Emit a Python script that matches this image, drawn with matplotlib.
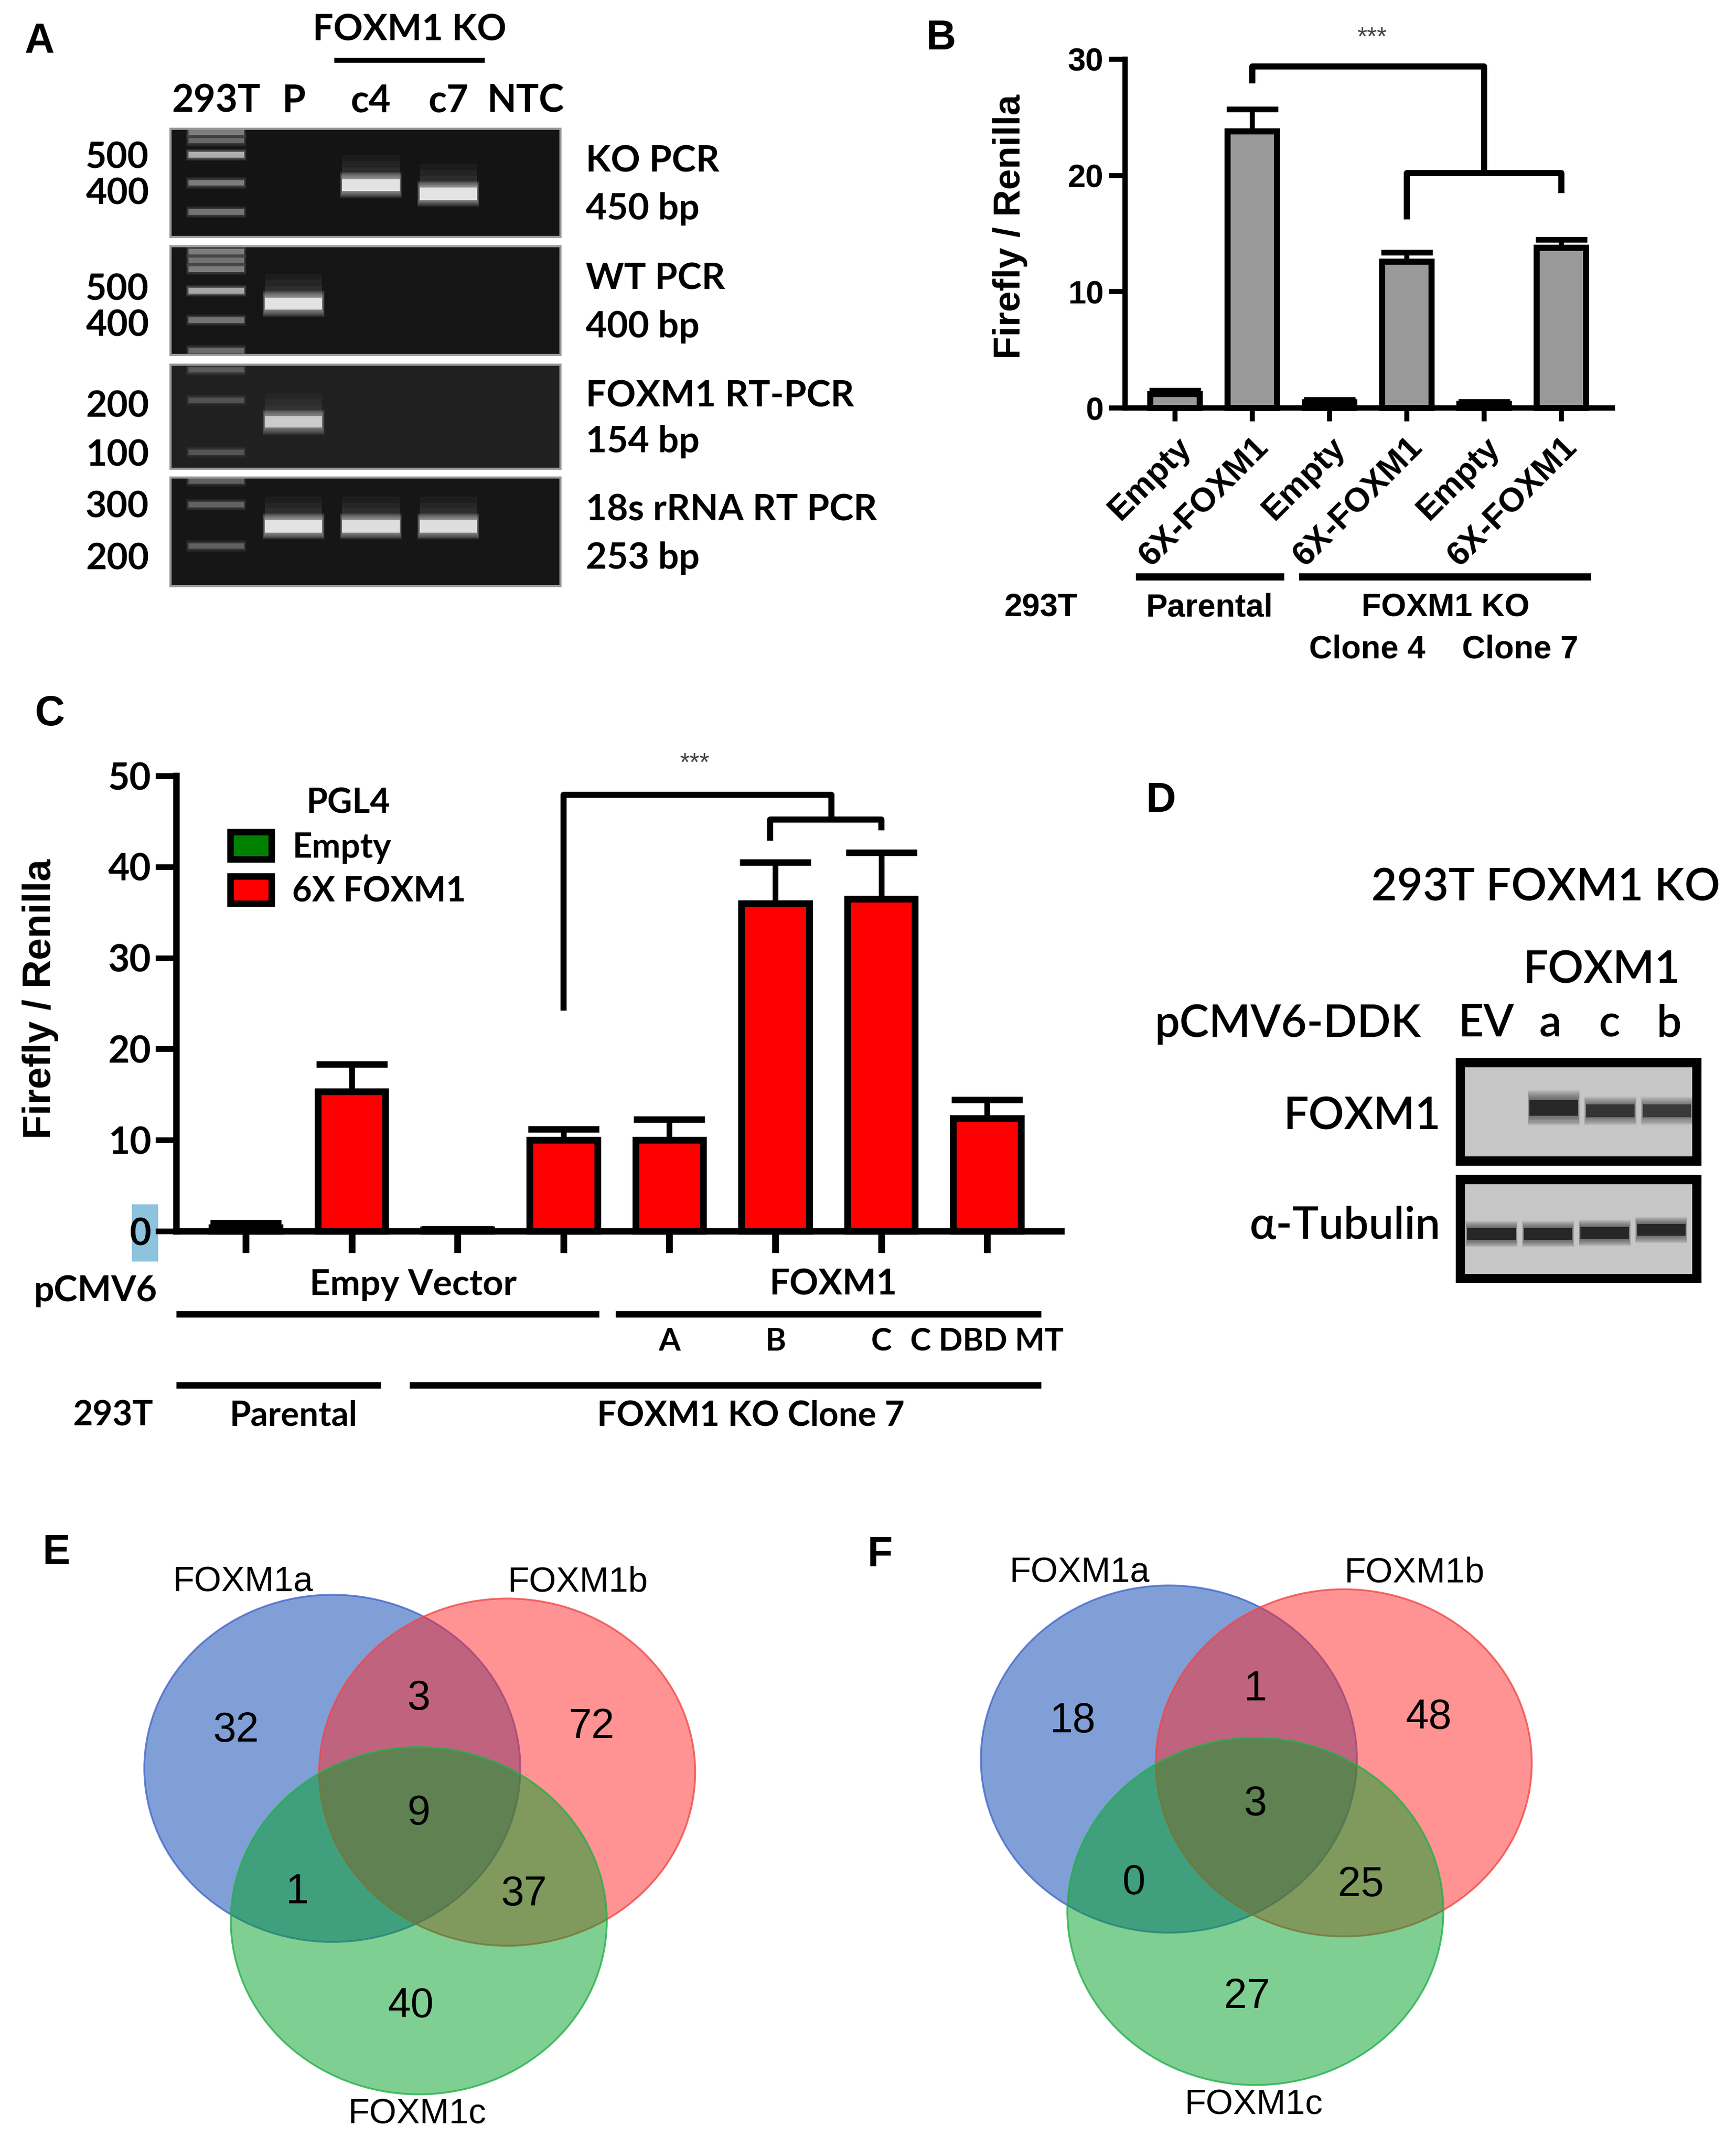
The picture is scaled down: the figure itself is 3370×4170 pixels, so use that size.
import numpy as np
import matplotlib
matplotlib.use("Agg")
import matplotlib.pyplot as plt
from matplotlib.patches import Rectangle, Ellipse, Patch
from matplotlib.lines import Line2D

W, H = 3370, 4170
CAL = ["Lato", "DejaVu Sans"]
ARI = ["Liberation Sans", "DejaVu Sans"]

# ---- panel A: gels ----
gel_lanes = ["293T", "P", "c4", "c7", "NTC"]
gel_size_ticks = [[(0.24, "500"), (0.57, "400")],
                  [(0.37, "500"), (0.70, "400")],
                  [(0.37, "200"), (0.84, "100")],
                  [(0.24, "300"), (0.72, "200")]]
gel_names = [("KO PCR", "450 bp"), ("WT PCR", "400 bp"),
             ("FOXM1 RT-PCR", "154 bp"), ("18s rRNA RT PCR", "253 bp")]
ladder_y = [[0.03, 0.11, 0.24, 0.50, 0.77],
            [0.05, 0.13, 0.21, 0.41, 0.68, 0.96],
            [0.05, 0.34, 0.84],
            [0.03, 0.25, 0.63]]
ladder_int = [[0.45, 0.35, 0.75, 0.45, 0.4],
              [0.45, 0.4, 0.45, 0.7, 0.4, 0.35],
              [0.25, 0.2, 0.22],
              [0.3, 0.32, 0.3]]
# (lane, position, intensity)
sample_bands = [[(2, 0.52, 1.0), (3, 0.60, 1.0)],
                [(1, 0.53, 1.0)],
                [(1, 0.55, 0.8)],
                [(1, 0.45, 1.0), (2, 0.45, 0.95), (3, 0.45, 0.95)]]

# ---- panel B ----
b_labels = ["Empty", "6X-FOXM1", "Empty", "6X-FOXM1", "Empty", "6X-FOXM1"]
b_vals = [1.2, 23.8, 0.5, 12.6, 0.35, 13.8]
b_err_top = [1.5, 25.7, 0.7, 13.4, 0.55, 14.5]

# ---- panel C ----
c_vals = [0.4, 15.3, 0.15, 10.0, 10.0, 36.0, 36.5, 12.4]
c_err_top = [0.9, 18.3, 0.2, 11.2, 12.3, 40.5, 41.6, 14.4]
c_reporter = ["Empty", "6X FOXM1", "Empty", "6X FOXM1",
              "6X FOXM1", "6X FOXM1", "6X FOXM1", "6X FOXM1"]
c_colors = {"Empty": "#008000", "6X FOXM1": "#ff0000"}
c_variant = ["", "", "", "", "A", "B", "C", "C DBD MT"]

# ---- panel D ----
d_lanes = ["EV", "a", "c", "b"]
d_foxm1_int = [0.0, 1.0, 0.85, 0.8]
d_foxm1_y = [0.46, 0.46, 0.49, 0.49]
d_tub_int = [1.0, 1.0, 1.0, 1.0]
d_tub_y = [0.55, 0.55, 0.54, 0.51]

# ---- panels E, F ----
venn_sets = ["FOXM1a", "FOXM1b", "FOXM1c"]
# regions: a only, ab, b only, abc, ac, bc, c only
e_counts = [32, 3, 72, 9, 1, 37, 40]
f_counts = [18, 1, 48, 3, 0, 25, 27]

fig = plt.figure(figsize=(W / 100, H / 100), dpi=100)
fig.patch.set_facecolor("white")


def axpx(x0, y0, x1, y1):
    return fig.add_axes([x0 / W, 1 - y1 / H, (x1 - x0) / W, (y1 - y0) / H])


def txt(x, y, s, **kw):
    kw.setdefault("ha", "center")
    kw.setdefault("va", "center")
    return fig.text(x / W, 1 - y / H, s, **kw)


def hline(x0, x1, y, lw):
    fig.add_artist(Line2D([x0 / W, x1 / W], [1 - y / H, 1 - y / H],
                          transform=fig.transFigure, color="k", lw=lw,
                          solid_capstyle="butt"))


def band(ax, x, y, w, h, color, a, smear=False):
    # soft edges: several stacked rectangles, each a little larger and fainter
    steps = 7
    for k in range(steps, 0, -1):
        f = k / steps
        gw = 0.06 * f
        gh = 1.2 * h * f
        ax.add_patch(Rectangle((x - (w + gw) / 2, y - (h + gh) / 2), w + gw, h + gh,
                               facecolor=color, edgecolor="none", alpha=0.09 * a))
    ax.add_patch(Rectangle((x - w / 2, y - h / 2), w, h, facecolor=color,
                           edgecolor="none", alpha=0.85 * a))
    if smear:
        for k in range(4):
            ax.add_patch(Rectangle((x - w / 2, y - h / 2 - 0.5 * h * (k + 1)), w,
                                   0.5 * h * (k + 1), facecolor=color,
                                   edgecolor="none", alpha=0.04 * a))


def panel_label(x, y, s):
    txt(x, y, s, fontsize=58, fontweight="bold", family=ARI)


# ================= A =================
panel_label(77, 80, "A")
gel_boxes = [(250, 460), (478, 689), (708, 910), (927, 1138)]
gel_bg = ["#141414", "#151515", "#202020", "#161616"]
for i, (y0, y1) in enumerate(gel_boxes):
    ax = axpx(331, y0, 1088, y1)
    ax.set_facecolor(gel_bg[i])
    ax.set_xlim(-0.59, 4.45)
    ax.set_ylim(1, 0)
    for sp in ax.spines.values():
        sp.set_color("#9a9a9a")
        sp.set_linewidth(3)
    for yy, it in zip(ladder_y[i], ladder_int[i]):
        band(ax, 0, yy, 0.72, 0.05, "#dcdcdc", it)
    for lane, yy, it in sample_bands[i]:
        band(ax, lane, yy, 0.74, 0.11, "#f6f6f6", it, smear=True)
    pos = [p for p, _ in gel_size_ticks[i]]
    labs = [l for _, l in gel_size_ticks[i]]
    ax.set_yticks(pos, labs)
    ax.tick_params(axis="y", length=0, pad=30, labelsize=51)
    for t in ax.get_yticklabels():
        t.set_fontfamily(CAL)
        t.set_fontweight("bold")
    if i == 0:
        ax.xaxis.tick_top()
        ax.set_xticks(range(len(gel_lanes)), gel_lanes)
        ax.tick_params(axis="x", length=0, pad=14, labelsize=53)
        for t in ax.get_xticklabels():
            t.set_fontfamily(CAL)
            t.set_fontweight("bold")
    else:
        ax.set_xticks([])
    n1, n2 = gel_names[i]
    ax.text(1.065, 0.70, n1, transform=ax.transAxes, ha="left", va="center",
            fontsize=51, fontweight="bold", family=CAL)
    ax.text(1.065, 0.26, n2, transform=ax.transAxes, ha="left", va="center",
            fontsize=51, fontweight="bold", family=CAL)

txt(795, 58, "FOXM1 KO", fontsize=51, fontweight="bold", family=CAL)
hline(649, 941, 117, 7)

# ================= B =================
panel_label(1827, 75, "B")
axB = axpx(2184, 115, 3130, 792)
axB.set_facecolor("none")
xb = np.arange(len(b_vals))
b_err = np.array(b_err_top) - np.array(b_vals)
axB.errorbar(xb, b_vals, yerr=[np.zeros(len(xb)), b_err], fmt="none", ecolor="k",
             elinewidth=7, capsize=36, capthick=8, zorder=2)
axB.bar(xb, b_vals, width=0.64, color="#999999", edgecolor="k", linewidth=8.5,
        zorder=3, clip_on=False)
axB.set_xlim(-0.65, 5.66)
axB.set_ylim(0, 30)
axB.set_yticks([0, 10, 20, 30])
axB.set_xticks(xb, b_labels, rotation=45, ha="right", rotation_mode="anchor")
for s in ["top", "right"]:
    axB.spines[s].set_visible(False)
for s in ["left", "bottom"]:
    axB.spines[s].set_linewidth(7.5)
axB.tick_params(axis="y", length=22, width=7, pad=8, labelsize=45)
axB.tick_params(axis="x", length=19, width=7, pad=14, labelsize=47)
for t in axB.get_yticklabels() + axB.get_xticklabels():
    t.set_fontfamily(ARI)
    t.set_fontweight("bold")
axB.set_ylabel("Firefly / Renilla", fontsize=52, fontweight="bold", family=ARI)
axB.yaxis.set_label_coords(-0.20, 0.52)
kw = dict(color="k", lw=8.5, clip_on=False, solid_capstyle="butt")
axB.plot([1, 1, 4, 4], [27.9, 29.4, 29.4, 20.2], **kw)
axB.plot([3, 3, 5, 5], [16.2, 20.2, 20.2, 18.5], **kw)
axB.text(2.55, 31.8, "***", ha="center", va="center", fontsize=36, color="#444444",
         family=ARI, clip_on=False)

txt(2021, 1180, "293T", fontsize=45, fontweight="bold", family=ARI)
txt(2348, 1180, "Parental", fontsize=45, fontweight="bold", family=ARI)
txt(2806, 1180, "FOXM1 KO", fontsize=45, fontweight="bold", family=ARI)
txt(2654, 1261, "Clone 4", fontsize=45, fontweight="bold", family=ARI)
txt(2951, 1261, "Clone 7", fontsize=45, fontweight="bold", family=ARI)
hline(2205, 2493, 1120, 10)
hline(2522, 3089, 1120, 10)

# ================= C =================
panel_label(97, 1387, "C")
fig.add_artist(Rectangle((256 / W, 1 - 2449 / H), 51 / W, 111 / H,
                         transform=fig.transFigure, facecolor="#8ec3de",
                         edgecolor="none", zorder=-1))
axC = axpx(342, 1506, 2060, 2390)
axC.set_facecolor("none")
xc = np.arange(len(c_vals))
c_err = np.array(c_err_top) - np.array(c_vals)
axC.errorbar(xc, c_vals, yerr=[np.zeros(len(xc)), c_err], fmt="none", ecolor="k",
             elinewidth=8, capsize=50, capthick=9, zorder=2)
axC.bar(xc, c_vals, width=0.64, color=[c_colors[r] for r in c_reporter],
        edgecolor="k", linewidth=9.5, zorder=3, clip_on=False)
axC.set_xlim(-0.657, 7.70)
axC.set_ylim(0, 50)
axC.set_yticks(range(0, 51, 10))
axC.set_xticks(xc, [""] * len(xc))
for s in ["top", "right"]:
    axC.spines[s].set_visible(False)
for s in ["left", "bottom"]:
    axC.spines[s].set_linewidth(9)
axC.tick_params(axis="y", length=29, width=8, pad=6, labelsize=52)
axC.tick_params(axis="x", length=30, width=9.5)
for t in axC.get_yticklabels():
    t.set_fontfamily(CAL)
    t.set_fontweight("bold")
axC.set_ylabel("Firefly / Renilla", fontsize=55, fontweight="bold", family=ARI)
axC.yaxis.set_label_coords(-0.133, 0.51)
kw = dict(color="k", lw=8.5, clip_on=False, solid_capstyle="butt")
axC.plot([3, 3, 5.53, 5.53], [24.2, 47.9, 47.9, 45.2], **kw)
axC.plot([4.95, 4.95, 6.0, 6.0], [42.9, 45.2, 45.2, 44.0], **kw)
axC.text(4.24, 51.3, "***", ha="center", va="center", fontsize=36, color="#444444",
         family=ARI, clip_on=False)
handles = [Patch(facecolor=c_colors[k], edgecolor="k", linewidth=9) for k in c_colors]
leg = axC.legend(handles, list(c_colors), title="PGL4", loc="upper left",
                 bbox_to_anchor=(0.042, 1.012), frameon=False, borderpad=0,
                 handlelength=1.2, handleheight=0.85, handletextpad=0.6,
                 labelspacing=0.36,
                 prop={"family": CAL, "weight": "bold", "size": 48},
                 title_fontproperties={"family": CAL, "weight": "bold", "size": 48})

txt(185, 2506, "pCMV6", fontsize=50, fontweight="bold", family=CAL)
txt(802, 2494, "Empy Vector", fontsize=50, fontweight="bold", family=CAL)
txt(1617, 2494, "FOXM1", fontsize=50, fontweight="bold", family=CAL)
hline(342, 1163, 2551, 9)
hline(1195, 2021, 2551, 9)
for i, v in enumerate(c_variant):
    if v:
        xx = axC.transData.transform((i, 0))[0]
        fig.text(xx / fig.bbox.width, 1 - 2604 / H, v, ha="center", va="center",
                 fontsize=44, fontweight="bold", family=CAL)
txt(219, 2748, "293T", fontsize=48, fontweight="bold", family=CAL)
txt(570, 2748, "Parental", fontsize=48, fontweight="bold", family=CAL)
txt(1457, 2748, "FOXM1 KO Clone 7", fontsize=48, fontweight="bold", family=CAL)
hline(342, 739, 2689, 9)
hline(795, 2021, 2689, 9)

# ================= D =================
panel_label(2254, 1555, "D")
dk = dict(fontsize=62, fontweight="semibold", family=CAL)
txt(3001, 1724, "293T FOXM1 KO", **dk)
txt(3109, 1884, "FOXM1", **dk)
txt(2500, 1988, "pCMV6-DDK", **dk)
lane_x = [2885, 3009, 3124, 3240]
for lx, lab in zip(lane_x, d_lanes):
    txt(lx, 1988, lab, **dk)
txt(2797, 2168, "FOXM1", ha="right", **dk)
txt(2797, 2380, "α-Tubulin", ha="right", **dk)
for (y0, y1), ints, ys, hh in [((2063, 2254), d_foxm1_int, d_foxm1_y, 0.13),
                               ((2290, 2482), d_tub_int, d_tub_y, 0.12)]:
    ax = axpx(2835, y0, 3294, y1)
    ax.set_facecolor("#c6c6c6")
    ax.set_xlim(-0.55, 3.63)
    ax.set_ylim(1, 0)
    ax.set_xticks([])
    ax.set_yticks([])
    for sp in ax.spines.values():
        sp.set_linewidth(13)
    for j, (it, yy) in enumerate(zip(ints, ys)):
        if it > 0:
            band(ax, j + (0.1 if hh > 0.125 and j > 0 else 0), yy, 0.86,
                 hh * (1.25 if (hh > 0.125 and j == 1) else 1), "#1a1a1a", it)

# ================= E, F =================
circle_pos = [(-0.46, 0.28), (0.47, 0.26), (0.0, -0.53)]
circle_fill = ["#0541b1", "#ff2828", "#01a127"]
circle_edge = ["#4466cc", "#f04848", "#22b04a"]
region_pos = [(-0.97, 0.48), (0.0, 0.65), (0.92, 0.50), (0.0, 0.04),
              (-0.645, -0.38), (0.56, -0.39), (-0.045, -0.985)]
label_pos = [(-0.935, 1.27), (0.845, 1.27), (-0.01, -1.56)]


def venn(box, counts):
    ax = axpx(*box)
    ax.set_xlim(-1.6, 1.6)
    ax.set_ylim(-1.7, 1.6)
    ax.axis("off")
    for (cx, cy), fc, ec in zip(circle_pos, circle_fill, circle_edge):
        ax.add_patch(Ellipse((cx, cy), 2.0, 1.846, facecolor=fc, edgecolor="none",
                             alpha=0.5))
        ax.add_patch(Ellipse((cx, cy), 2.0, 1.846, facecolor="none", edgecolor=ec,
                             lw=2.5, alpha=0.8))
    for (px, py), n in zip(region_pos, counts):
        ax.text(px, py, str(n), ha="center", va="center", fontsize=58, family=ARI)
    for (px, py), s in zip(label_pos, venn_sets):
        ax.text(px, py, s, ha="center", va="center", fontsize=49, family=ARI)


panel_label(109, 3015, "E")
venn((229, 2951, 1397, 4156), e_counts)
panel_label(1708, 3020, "F")
venn((1853, 2933, 3021, 4138), f_counts)

fig.savefig("out.png", dpi=100, facecolor="white")
